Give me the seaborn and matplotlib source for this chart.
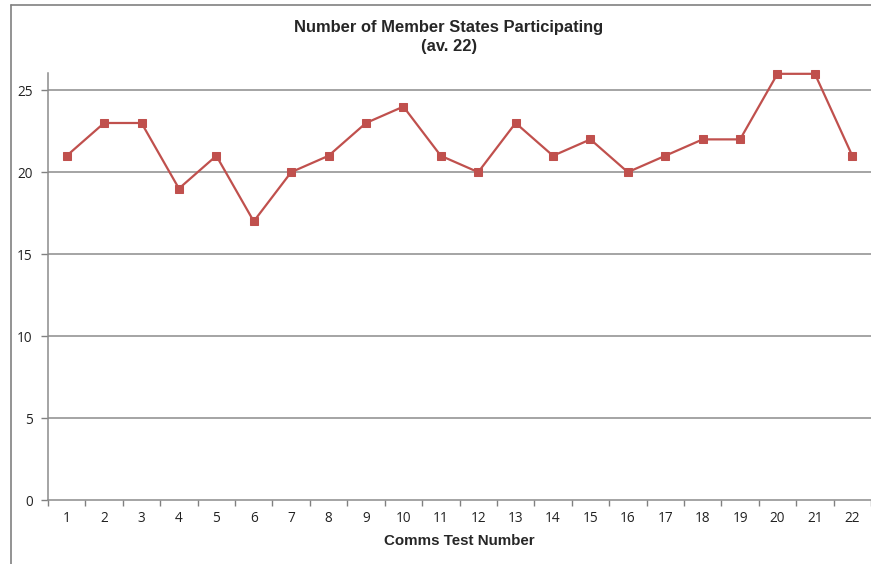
import numpy as np
import pandas as pd
import seaborn as sns
import matplotlib
matplotlib.use("Agg")
import matplotlib.pyplot as plt
from matplotlib.lines import Line2D

tests = [str(i) for i in range(1, 23)]
participants = [21, 23, 23, 19, 21, 17, 20, 21, 23, 24, 21, 20, 23, 21, 22, 20, 21, 22, 22, 26, 26, 21]
yticks = [0, 5, 10, 15, 20, 25]

sns.set_style("white")
plt.rcParams['font.family'] = ['Open Sans', 'DejaVu Sans']

fig = plt.figure(figsize=(8.71, 5.64), dpi=100)
ax = fig.add_axes([48/871, 1-500/564, 1-48/871, (500-73)/564])

df = pd.DataFrame({"pos": np.arange(len(tests)), "val": participants})
sns.lineplot(data=df, x="pos", y="val", ax=ax, color="#C0504D", marker="s",
             markersize=6, markeredgecolor="#C0504D", linewidth=1.6)
for ln in ax.lines:
    ln.set_clip_on(False)

ax.set_xlim(-0.5, len(tests) - 0.5)
ax.set_ylim(0, 26.05)
ax.set_yticks(yticks)
ax.set_yticklabels([str(v) for v in yticks], fontsize=9.8, color="#222222")
ax.set_xticks(np.arange(len(tests)))
ax.set_xticklabels(tests, fontsize=9.8, color="#222222")
ax.set_xticks(np.arange(len(tests) + 1) - 0.5, minor=True)
ax.tick_params(axis="x", which="major", length=0, pad=8)
ax.tick_params(axis="x", which="minor", length=4, direction="out", color="#808080", width=1)
ax.tick_params(axis="y", length=5, direction="out", color="#808080", width=1, pad=6)
ax.yaxis.set_ticks_position("left")
ax.xaxis.set_ticks_position("bottom")

for v in yticks[1:]:
    ax.axhline(v, color="#8c8c8c", linewidth=1.1, zorder=0)

for s in ["top", "right"]:
    ax.spines[s].set_visible(False)
for s in ["left", "bottom"]:
    ax.spines[s].set_color("#8c8c8c")
    ax.spines[s].set_linewidth(1.1)

ax.set_xlabel("")
ax.set_ylabel("")
fig.text(459/871, 1-541/564, "Comms Test Number", ha="center", va="center",
         fontsize=10.9, fontweight="bold", family=["Liberation Sans", "DejaVu Sans"])
fig.text(449/871, 1-37/564, "Number of Member States Participating\n(av. 22)",
         ha="center", va="center", fontsize=11.9, fontweight="bold",
         family=["Liberation Sans", "DejaVu Sans"], linespacing=1.3)

# outer chart frame (left and top edges visible)
fig.add_artist(Line2D([11/871, 11/871], [0, 1-5/564], transform=fig.transFigure,
                      color="#808080", linewidth=1.2))
fig.add_artist(Line2D([11/871, 1], [1-5/564, 1-5/564], transform=fig.transFigure,
                      color="#808080", linewidth=1.2))

fig.savefig("out.png", dpi=100)
